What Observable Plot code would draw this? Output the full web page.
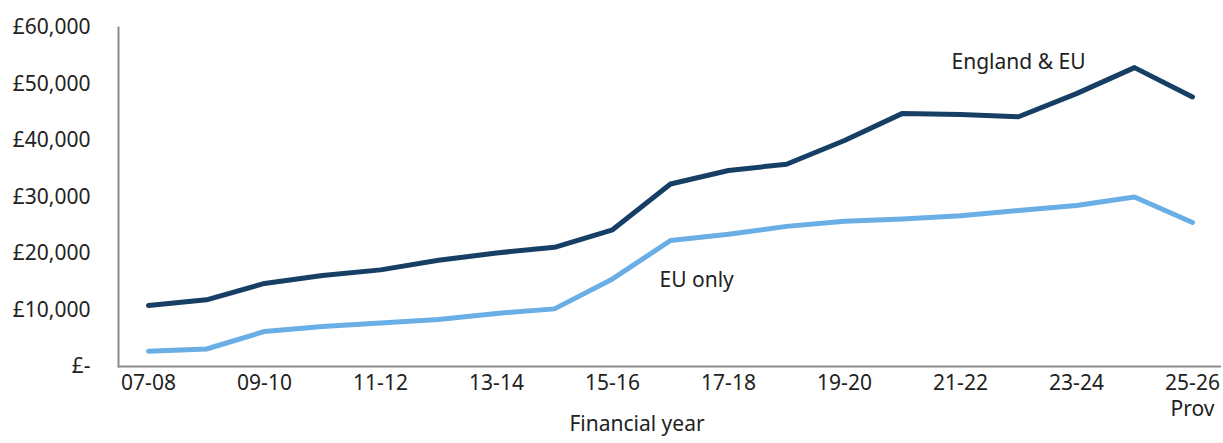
<!DOCTYPE html>
<html>
<head>
<meta charset="utf-8">
<script src="https://cdn.jsdelivr.net/npm/d3@7"></script>
<script src="https://cdn.jsdelivr.net/npm/@observablehq/plot@0.6"></script>
<style>
  html, body { margin: 0; padding: 0; background: #fff; }
  #chart svg { display: block; }
</style>
</head>
<body>
<div id="chart"></div>
<script>
const years = ["07-08","08-09","09-10","10-11","11-12","12-13","13-14","14-15","15-16","16-17","17-18","18-19","19-20","20-21","21-22","22-23","23-24","24-25","25-26"];
const englandEU = [10800,11800,14700,16100,17100,18800,20100,21100,24200,32300,34700,35800,40000,44800,44600,44200,48300,52900,47700];
const euOnly = [2700,3100,6200,7100,7700,8300,9400,10200,15500,22300,23400,24800,25700,26100,26700,27600,28500,30000,25500];
const seriesNames = ["England & EU", "EU only"];
const yTicks = [0,10000,20000,30000,40000,50000,60000];
const xTicks = years.filter((d, i) => i % 2 === 0);
const provYear = "25-26";
const axisTitle = "Financial year";

const rows = [
  ...years.map((y, i) => ({year: y, value: englandEU[i], series: seriesNames[0]})),
  ...years.map((y, i) => ({year: y, value: euOnly[i], series: seriesNames[1]}))
];

const font = "'Noto Sans', sans-serif";
const textColor = "#222222";

const chart = Plot.plot({
  width: 1223,
  height: 443,
  marginLeft: 118,
  marginRight: 2,
  marginTop: 27,
  marginBottom: 77,
  style: {fontFamily: font, fontSize: "21px", color: textColor, background: "#fff"},
  x: {type: "point", domain: years, padding: 0.5, align: 0.5},
  y: {domain: [0, 60000]},
  color: {domain: seriesNames, range: ["#173f66", "#6aaee6"]},
  marks: [
    Plot.axisY({ticks: yTicks, tickSize: 0, tickPadding: 28, label: null,
      tickFormat: d => d === 0 ? "£-" : "£" + d3.format(",")(d), fill: textColor}),
    Plot.axisX({ticks: xTicks, tickSize: 0, tickPadding: 6, label: null, lineHeight: 1.2,
      tickFormat: d => d === provYear ? d + "\nProv" : d, fill: textColor}),
    Plot.frame({anchor: "left", stroke: "#8c8c8c", strokeWidth: 2}),
    Plot.ruleY([0], {stroke: "#8c8c8c", strokeWidth: 2}),
    Plot.line(rows, {x: "year", y: "value", z: "series", stroke: "series", strokeWidth: 5, strokeLinejoin: "round", strokeLinecap: "round"}),
    Plot.text([seriesNames[0]], {x: () => "22-23", y: () => 53800, text: d => d, textAnchor: "middle", fill: textColor, fontSize: 21}),
    Plot.text([seriesNames[1]], {x: () => "16-17", y: () => 15200, text: d => d, textAnchor: "start", dx: -11, fill: textColor, fontSize: 21}),
    Plot.text([axisTitle], {frameAnchor: "bottom", text: d => d, dx: -33, dy: 64, fill: textColor, fontSize: 21})
  ]
});
document.getElementById("chart").appendChild(chart);
</script>
</body>
</html>
